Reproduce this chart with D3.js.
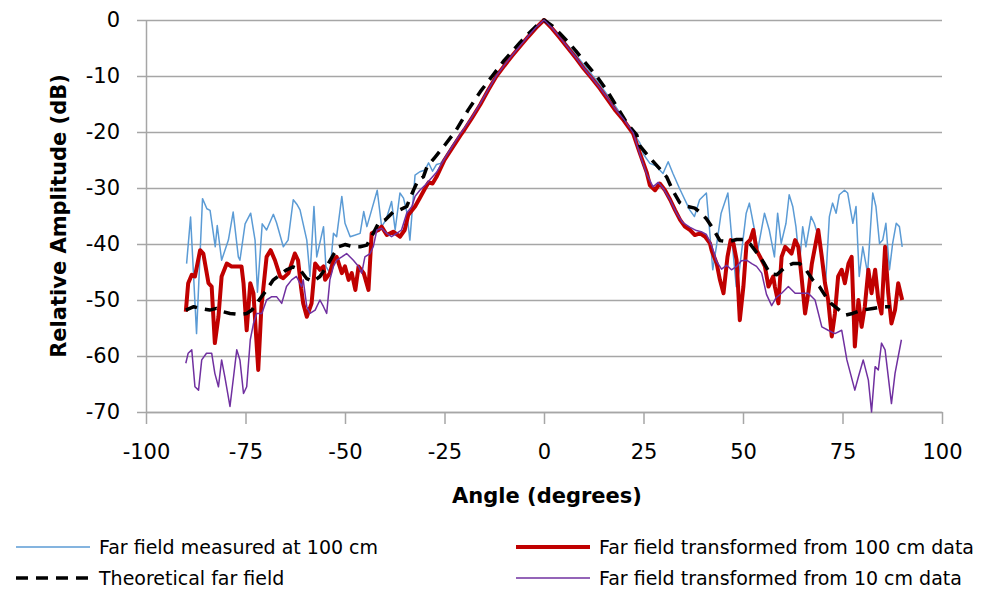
<!DOCTYPE html>
<html>
<head>
<meta charset="utf-8">
<script src="https://cdn.jsdelivr.net/npm/d3@7"></script>
<style>
  body { margin: 0; background: #fff; }
  svg text { font-family: "DejaVu Sans", Verdana, sans-serif; fill: #000; }
</style>
</head>
<body>
<div id="chart"></div>
<script>
// tick values
var xTicks = [-100, -75, -50, -25, 0, 25, 50, 75, 100];
var yTicks = [0, -10, -20, -30, -40, -50, -60, -70];

// legend labels
var seriesNames = [
  "Far field measured at 100 cm",
  "Far field transformed from 100 cm data",
  "Theoretical far field",
  "Far field transformed from 10 cm data"
];

// [angle (deg), relative amplitude (dB)]
var measured100 = [
  [-89.8,-43.5],[-88.8,-35.2],[-87.3,-56],[-85.8,-31.9],[-84.7,-33.7],[-83.9,-34],[-82.6,-40.5],[-82.1,-36.7],
  [-81,-42.9],[-79.3,-39.3],[-78.1,-34.3],[-76.8,-42.3],[-76.4,-42.9],[-75.1,-36.4],[-73.7,-34.5],[-72.6,-39.3],
  [-72,-48.6],[-70.8,-36.4],[-69.7,-37.5],[-68,-34.7],[-67.2,-36.2],[-65.5,-40.5],[-64.3,-39.3],[-63,-32.1],
  [-62,-33],[-61.3,-33.9],[-59.6,-39.3],[-58.8,-45.8],[-57.8,-33.3],[-57.1,-42.3],[-55.4,-36.9],[-54.8,-44],
  [-53.8,-45.2],[-52.9,-38.1],[-52.1,-38.7],[-50.8,-31.5],[-50,-36.3],[-48.7,-38.7],[-47.4,-38.4],[-46.2,-38.1],
  [-45.3,-34.2],[-44.5,-36.9],[-43.3,-33.9],[-41.9,-30.4],[-40.8,-36.9],[-39.7,-35.7],[-38.3,-32.4],[-37.4,-37.5],
  [-36.2,-30.9],[-35.3,-31.8],[-34.5,-34.2],[-33.7,-39.3],[-32.4,-27.7],[-31.2,-27.1],[-29.9,-26.8],[-29,-25.5],
  [-28,-27],[-27,-25.8],[-26,-25.6],[-25,-24.6],[-23,-22.4],[-21,-20.4],[-19,-18.3],[-17,-16.2],[-15,-13.9],
  [-13,-11.3],[-11,-9.2],[-9,-7.3],[-7,-5.6],[-5,-3.9],[-3,-2.2],[-1,-0.6],[0,0],[1,-0.5],[3,-2],[5,-3.7],
  [7,-5.4],[9,-7.1],[11,-8.9],[13,-10.6],[15,-12.5],[17,-14.4],[19,-16.5],[21,-18.6],[22.5,-20.2],[24.1,-22],
  [25,-24],[26.6,-25.6],[28,-26],[29.9,-27.4],[31.2,-25.3],[32.4,-27.4],[34,-30],[36.6,-33.9],[37.8,-35.1],
  [39.1,-32.1],[40.8,-30.9],[41.6,-37.5],[42.4,-44.6],[43.3,-40.5],[44.5,-34.5],[46.2,-30.9],[47,-37.5],
  [48.3,-47.6],[49.1,-44.6],[50.8,-34.5],[51.6,-32.7],[52.9,-37.5],[53.7,-41.1],[55.4,-34.5],[56.6,-37.5],
  [57.9,-42.3],[58.7,-34.5],[59.6,-39.9],[60.8,-36.3],[61.6,-31.2],[62.5,-33.3],[63.3,-36.9],[64.2,-43.5],
  [65,-36.9],[65.8,-40.5],[67.1,-35.1],[67.9,-36.3],[69.2,-39.3],[70.8,-46.4],[71.7,-35.1],[72.5,-32.7],
  [73.4,-34.5],[74.2,-31.2],[75.5,-30.4],[76.3,-30.9],[77.6,-36.3],[78.4,-33.3],[79.2,-45.8],[80.1,-40.5],
  [81.3,-45.2],[82.6,-30.9],[83.4,-33.3],[84.3,-39.9],[85.1,-39.3],[85.9,-36.3],[86.8,-44.6],[87.6,-39.9],
  [88.5,-36.3],[89.3,-36.9],[90,-40.5]
];

var transformed100 = [
  [-90,-52.1],[-89.4,-47],[-88.5,-45.5],[-87.7,-45.8],[-86.4,-41.1],[-85.6,-41.7],[-84.3,-47],[-83.5,-47.6],
  [-82.7,-57.7],[-81.8,-53],[-81,-45.8],[-79.7,-43.5],[-78.5,-44],[-77.2,-44],[-76,-44],[-75.5,-47],
  [-74.7,-55.4],[-73.8,-47],[-73,-48.8],[-71.8,-62.5],[-71,-51.2],[-69.7,-42.3],[-68.7,-41.1],[-67.6,-42.9],
  [-66.3,-45.8],[-65.5,-46.1],[-64.2,-45.2],[-62.6,-41.7],[-61.8,-42.9],[-61,-48],[-60.5,-50.6],[-59.6,-53],
  [-58.4,-50.6],[-57.5,-43.5],[-56.3,-44.6],[-55.4,-44],[-55,-46.4],[-53.8,-45.2],[-52.9,-42.9],[-52.1,-42.3],
  [-50.8,-45.2],[-50,-44],[-49.1,-46.4],[-48.3,-45.2],[-47.4,-48.2],[-46.6,-44],[-45.3,-45.2],[-44.1,-48.2],
  [-43.3,-38.1],[-41.6,-37.5],[-40.8,-36.9],[-39.5,-38.4],[-37.9,-37.8],[-36.2,-38.7],[-35,-37.5],[-34.1,-34.8],
  [-32.4,-33.3],[-31.2,-31.8],[-29.9,-30.1],[-29,-29],[-28,-29.2],[-27,-28],[-26,-26.5],[-25,-25],[-23,-22.8],
  [-21,-20.6],[-20,-19.6],[-18,-17.4],[-16,-15.1],[-14,-12.5],[-12,-10.1],[-10,-8.2],[-8,-6.4],[-6,-4.7],
  [-4,-3],[-2,-1.4],[0,0],[2,-1.5],[4,-3.2],[6,-5],[8,-6.8],[10,-8.7],[12,-10.4],[14,-12.2],[16,-14.2],
  [18,-16.2],[20,-17.9],[22.4,-20.3],[24.1,-23.8],[25.8,-27.2],[26.6,-29.5],[27.9,-30.4],[29.1,-29.2],
  [30.4,-30.4],[31.7,-32.1],[32.9,-33.9],[34.2,-35.7],[35.4,-36.9],[36.7,-37.5],[37.9,-38.4],[39.2,-38.1],
  [40.5,-38.7],[41.7,-39.9],[42.1,-41.1],[43.4,-43.5],[44.2,-46.4],[45.1,-48.8],[46.1,-42.3],[46.9,-39.3],
  [47.6,-39.9],[48.4,-42.9],[49.2,-53.6],[50.1,-47.6],[50.9,-39.9],[51.8,-39.3],[52.6,-37.5],[53.4,-41.1],
  [54.3,-42.3],[55.5,-44],[56.4,-47.6],[57.6,-45.8],[58,-47.6],[58.9,-50.6],[59.7,-42.3],[60.6,-40.5],
  [61.4,-41.1],[62.2,-41.7],[63.1,-39.3],[63.9,-40.5],[64.7,-45.8],[65.6,-52.4],[66.4,-48.8],[67.3,-43.5],
  [68.1,-40.5],[68.9,-37.5],[69.8,-42.3],[70.6,-47],[71.4,-50],[72.3,-56.5],[73.1,-52.4],[73.9,-45.8],
  [74.8,-44.6],[75.6,-47],[76.5,-43.5],[77.3,-42.3],[78.1,-58.3],[79,-50],[79.8,-54.8],[80.6,-51.2],
  [81.5,-44.6],[82.3,-48.8],[83.2,-44.6],[84,-50],[84.8,-52.4],[85.7,-40.5],[86.5,-48.8],[87.3,-54.2],
  [88.2,-51.8],[89,-47],[90,-50]
];

var theoretical = [
  [-90,-51.8],[-88,-51.2],[-86.4,-51.5],[-84,-51.8],[-82.3,-51.5],[-80.6,-52.1],[-78.9,-52.4],[-76.5,-52.6],
  [-74.7,-52.4],[-73.4,-51.8],[-72.2,-50.6],[-69.7,-48.2],[-68,-46.4],[-66.3,-45.5],[-64.7,-44.6],[-63,-44.1],
  [-61.3,-44.6],[-59.6,-46.2],[-58,-46.7],[-56.3,-45.8],[-54.6,-44],[-52.9,-41.9],[-51.7,-40.5],[-50,-40.1],
  [-47.9,-40.5],[-46.2,-40.5],[-44.5,-40.2],[-42.9,-38.1],[-41.6,-36.3],[-39.9,-35.7],[-37.8,-34.2],
  [-36.2,-33.9],[-34.5,-33.3],[-32.8,-30.4],[-31.6,-28.6],[-30.3,-28],[-29.4,-26.2],[-27.5,-24.6],[-25,-22.4],
  [-22,-19.6],[-19,-16],[-16,-12.8],[-13,-10],[-10,-7.2],[-8,-5.6],[-6,-4],[-4,-2.5],[-2,-1.1],[0,0],
  [2,-1],[4,-2.4],[6,-3.9],[8,-5.5],[10,-7.3],[13.2,-10],[16,-12.8],[19,-16.3],[21,-18.6],[23.3,-20.5],
  [24.1,-22.5],[26.6,-24.6],[29.1,-26.6],[30.8,-28],[32.4,-30.5],[34.1,-32.6],[35.4,-33.2],[37.9,-33.6],
  [39.6,-34.6],[40.8,-35.5],[42.5,-37.3],[44.2,-39.4],[46.3,-39.6],[48.4,-39.2],[50.1,-39.2],[51.8,-40],
  [53.4,-41.5],[55.1,-43.2],[56.8,-45.3],[58.5,-45.5],[60.8,-44],[62.5,-43.5],[64.2,-43.5],[65.8,-44.6],
  [67.5,-46.4],[69.2,-47.6],[70.8,-49.4],[72.1,-50.6],[74.2,-51.8],[75.8,-52.7],[77.5,-52.4],[80,-51.8],
  [82.6,-51.5],[85.1,-51.2],[87,-51.2]
];

var transformed10 = [
  [-90,-61.3],[-89.4,-59.5],[-88.5,-58.9],[-87.7,-65.5],[-86.8,-66.1],[-86,-60.7],[-84.8,-59.5],[-83.5,-59.5],
  [-82.7,-63.1],[-81.8,-65.5],[-81,-60.7],[-80.2,-63.7],[-78.9,-69],[-78,-63.7],[-77.2,-58.9],[-76.4,-60.7],
  [-75.5,-66.7],[-74.7,-65.5],[-73.8,-57.1],[-73,-54.2],[-72.2,-52.4],[-70.9,-52.4],[-69.7,-50],[-68.4,-49.4],
  [-67.2,-49.4],[-65.9,-50.6],[-64.7,-47.6],[-63.4,-46.4],[-62.2,-45.8],[-60.9,-47.6],[-60.5,-46.4],
  [-59.6,-51.2],[-58.8,-52.4],[-57.5,-51.8],[-56.3,-50],[-55.4,-51.2],[-54.6,-52.4],[-53.8,-46.4],[-52.9,-44],
  [-52.1,-42.9],[-50.8,-42.3],[-49.6,-41.7],[-47.9,-42.9],[-46.6,-44],[-45.8,-45.2],[-45,-42.3],[-43.7,-41.7],
  [-42.9,-40.5],[-42,-37.5],[-40.8,-37.2],[-39.5,-38.1],[-38.3,-38.7],[-37,-38.1],[-35.8,-37.5],[-34.5,-34.5],
  [-33.2,-33.3],[-32.4,-31.5],[-31.2,-30.4],[-29.9,-29.5],[-29,-28.8],[-28,-28],[-27,-27.2],[-26,-26],
  [-25,-24.8],[-23,-22.5],[-21,-20.3],[-20,-19.3],[-18,-17.2],[-16,-14.9],[-14,-12.4],[-12,-10],[-10,-8.1],
  [-8,-6.3],[-6,-4.6],[-4,-2.9],[-2,-1.3],[0,0],[2,-1.4],[4,-3.1],[6,-4.9],[8,-6.7],[10,-8.6],[12,-10.3],
  [14,-12.1],[16,-14],[18,-16],[20,-17.7],[22.4,-20.1],[24.1,-24],[25.8,-27.5],[27.4,-29.8],[28.7,-29],
  [29.9,-30],[31.6,-32],[33.3,-34.5],[34.9,-36.2],[36.6,-37],[38.3,-37.6],[39.5,-37.8],[40.8,-38.3],
  [42.1,-40.2],[43.3,-43],[44.6,-44.5],[45.9,-43.8],[47.1,-44.6],[48.4,-44],[49.6,-43],[50.9,-42.9],
  [52.2,-43.5],[53.4,-44],[54.7,-45.2],[55.9,-49],[57.2,-51],[58.3,-49.6],[59.7,-48.8],[61.4,-47.6],
  [63.1,-48.8],[64.7,-48.8],[66.4,-48.8],[68.1,-50],[69.8,-54.8],[71.4,-55.4],[73.1,-56],[74.8,-55.4],
  [76.1,-60.7],[78.1,-66.1],[79,-63.7],[80.2,-60.7],[81.5,-64.3],[82.3,-70],[83.2,-61.9],[84,-62.5],
  [84.8,-57.7],[85.7,-58.9],[87.3,-68.5],[88.2,-63.1],[89.8,-57.1]
];

// set the dimensions and margins of the graph
var margin = {top: 20, right: 44, bottom: 180, left: 146},
    width = 986 - margin.left - margin.right,
    height = 592 - margin.top - margin.bottom;

// set the ranges
var x = d3.scaleLinear().domain([-100, 100]).range([0, width]);
var y = d3.scaleLinear().domain([-70, 0]).range([height, 0]);

var line = d3.line()
    .x(function(d) { return x(d[0]); })
    .y(function(d) { return y(d[1]); });

// plain hyphen for negatives, like the original
var fmt = function(d) { return String(d); };

var svg = d3.select("#chart").append("svg")
    .attr("width", 986)
    .attr("height", 592);

var g = svg.append("g")
    .attr("transform", "translate(" + margin.left + "," + margin.top + ")");

// horizontal gridlines
g.append("g")
    .attr("class", "grid")
    .call(d3.axisLeft(y).tickValues(yTicks).tickSize(-width).tickFormat(""))
    .call(function(s) { s.select(".domain").remove(); })
    .selectAll("line")
    .attr("stroke", "#a6a6a6")
    .attr("stroke-width", 1.5);

// y axis
var yAxis = g.append("g")
    .call(d3.axisLeft(y).tickValues(yTicks).tickFormat(fmt)
      .tickSize(9).tickSizeOuter(0).tickPadding(17));

// x axis
var xAxis = g.append("g")
    .attr("transform", "translate(0," + height + ")")
    .call(d3.axisBottom(x).tickValues(xTicks).tickFormat(fmt)
      .tickSize(12).tickSizeOuter(0).tickPadding(20));

[yAxis, xAxis].forEach(function(a) {
  a.select(".domain").attr("stroke", "#a6a6a6").attr("stroke-width", 1.5);
  a.selectAll(".tick line").attr("stroke", "#a6a6a6").attr("stroke-width", 1.5);
  a.selectAll("text").attr("font-size", 21).attr("fill", "#111")
      .attr("font-family", "DejaVu Sans, Verdana, sans-serif");
});

// series
var series = [
  {data: measured100,     color: "#5b9bd5", w: 1.5, dash: null},
  {data: transformed100,  color: "#c00000", w: 4,   dash: null},
  {data: theoretical,     color: "#000000", w: 3.5, dash: "12,8"},
  {data: transformed10,   color: "#7030a0", w: 1.5, dash: null}
];

series.forEach(function(s) {
  g.append("path")
      .datum(s.data)
      .attr("fill", "none")
      .attr("stroke", s.color)
      .attr("stroke-width", s.w)
      .attr("stroke-linejoin", "round")
      .attr("stroke-dasharray", s.dash)
      .attr("d", line);
});

// axis titles
svg.append("text")
    .attr("x", 547)
    .attr("y", 503)
    .attr("text-anchor", "middle")
    .attr("font-size", 21)
    .attr("font-weight", "bold")
    .text("Angle (degrees)");

svg.append("text")
    .attr("transform", "translate(66,216) rotate(-90)")
    .attr("text-anchor", "middle")
    .attr("font-size", 21)
    .attr("font-weight", "bold")
    .text("Relative Amplitude (dB)");

// legend
var legendPos = [[16, 547], [516, 547], [16, 578], [516, 578]];
series.forEach(function(s, i) {
  var p = legendPos[i];
  svg.append("line")
      .attr("x1", p[0]).attr("x2", p[0] + 74)
      .attr("y1", p[1]).attr("y2", p[1])
      .attr("stroke", s.color)
      .attr("stroke-width", s.w)
      .attr("stroke-dasharray", s.dash);
  svg.append("text")
      .attr("x", p[0] + 83)
      .attr("y", p[1])
      .attr("dy", "0.35em")
      .attr("font-size", 19)
      .text(seriesNames[i]);
});
</script>
</body>
</html>
